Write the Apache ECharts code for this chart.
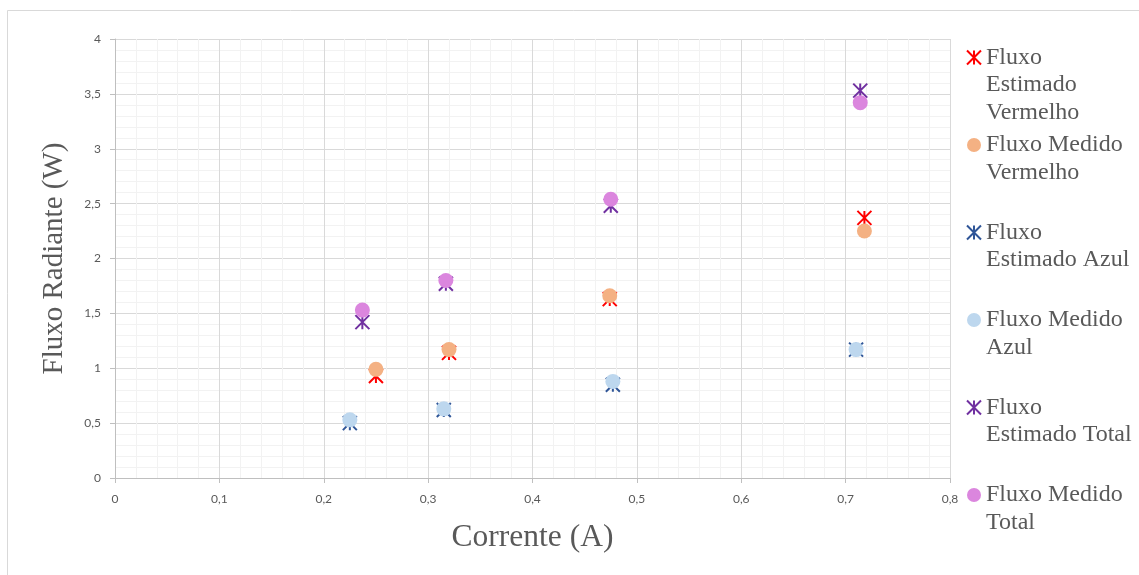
<!DOCTYPE html>
<html>
<head>
<meta charset="utf-8">
<script src="https://cdn.jsdelivr.net/npm/echarts@6/dist/echarts.min.js"></script>
<style>
html,body{margin:0;padding:0;background:#fff;}
#chart{width:1139px;height:575px;}
</style>
</head>
<body>
<div id="chart"></div>
<script>
// ---- data ----
const seriesNames = [
  'Fluxo Estimado Vermelho',
  'Fluxo Medido Vermelho',
  'Fluxo Estimado Azul',
  'Fluxo Medido Azul',
  'Fluxo Estimado Total',
  'Fluxo Medido Total'
];
const legendLines = [
  ['Fluxo', 'Estimado', 'Vermelho'],
  ['Fluxo Medido', 'Vermelho'],
  ['Fluxo', 'Estimado Azul'],
  ['Fluxo Medido', 'Azul'],
  ['Fluxo', 'Estimado Total'],
  ['Fluxo Medido', 'Total']
];
const xVermelho = [0.25, 0.32, 0.474, 0.718];
const yEstVermelho = [0.93, 1.14, 1.63, 2.37];
const yMedVermelho = [0.99, 1.17, 1.66, 2.25];
const xAzul = [0.225, 0.315, 0.477, 0.71];
const yEstAzul = [0.50, 0.62, 0.85, 1.17];
const yMedAzul = [0.53, 0.63, 0.88, 1.17];
const xTotal = [0.237, 0.317, 0.475, 0.714];
const yEstTotal = [1.42, 1.77, 2.48, 3.53];
const yMedTotal = [1.53, 1.80, 2.54, 3.42];

const xTicks = {min: 0, max: 0.8, interval: 0.1};
const yTicks = {min: 0, max: 4, interval: 0.5};

// ---- styling ----
const colors = ['#FF0000', '#F4B183', '#2F5597', '#BDD7EE', '#7030A0', '#DB86DE'];
const isStar = [true, false, true, false, true, false];
const STAR = 'path://M0,0L14,14M14,0L0,14M7,0L7,14';
const xs = [xVermelho, xVermelho, xAzul, xAzul, xTotal, xTotal];
const ys = [yEstVermelho, yMedVermelho, yEstAzul, yMedAzul, yEstTotal, yMedTotal];

const fmt = v => String(parseFloat(Number(v).toFixed(2))).replace('.', ',');
const LH = 27.5;

// Legend text padded with blank lines so that the first line sits level with the icon
function legendText(i) {
  const lines = legendLines[i].slice();
  const below = lines.length - 1;
  const out = [];
  for (let k = 0; k < 2; k++) out.push(' ');
  lines.forEach(l => out.push(l));
  for (let k = below; k < 2; k++) out.push(' ');
  return out.join('\n');
}

const series = seriesNames.map((name, i) => ({
  name: name,
  type: 'scatter',
  data: xs[i].map((x, k) => [x, ys[i][k]]),
  symbol: isStar[i] ? STAR : 'circle',
  symbolSize: isStar[i] ? 14 : 15,
  itemStyle: isStar[i]
    ? {color: colors[i], borderColor: colors[i], borderWidth: 2, opacity: 1}
    : {color: colors[i], borderWidth: 0, opacity: 1},
  emphasis: {disabled: true},
  z: 2 + i
}));

const legendData = seriesNames.map((name, i) => ({
  name: name,
  icon: isStar[i] ? STAR : 'circle',
  itemStyle: isStar[i]
    ? {color: colors[i], borderColor: colors[i], borderWidth: 2}
    : {color: colors[i], borderWidth: 0}
}));

const chart = echarts.init(document.getElementById('chart'), null, {renderer: 'canvas'});
chart.setOption({
  backgroundColor: '#ffffff',
  animation: false,
  color: colors,
  graphic: [{
    type: 'rect',
    shape: {x: 7.5, y: 10.5, width: 1140, height: 575},
    style: {fill: 'none', stroke: '#D9D9D9', lineWidth: 1},
    silent: true,
    z: -10
  }],
  grid: {left: 115, top: 39, width: 835, height: 439, containLabel: false},
  legend: {
    orient: 'vertical',
    left: 966,
    top: 57.5 - 68.75,
    padding: 0,
    itemGap: -50,
    itemWidth: 14,
    itemHeight: 14,
    selectedMode: false,
    data: legendData,
    formatter: name => legendText(seriesNames.indexOf(name)),
    textStyle: {
      fontFamily: 'Liberation Serif',
      fontSize: 24,
      lineHeight: LH,
      color: '#595959'
    }
  },
  xAxis: {
    type: 'value',
    min: xTicks.min, max: xTicks.max, interval: xTicks.interval,
    name: 'Corrente (A)',
    nameLocation: 'middle',
    nameGap: 44,
    nameTextStyle: {fontFamily: 'Liberation Serif', fontSize: 31.5, color: '#595959'},
    axisLine: {show: true, onZero: false, lineStyle: {color: '#BFBFBF', width: 1}},
    axisTick: {show: true, length: 5, lineStyle: {color: '#BFBFBF'}},
    axisLabel: {margin: 15, formatter: fmt, fontFamily: 'Lato', fontSize: 12, color: '#595959'},
    splitLine: {show: true, lineStyle: {color: '#D9D9D9', width: 1}},
    minorTick: {show: false, splitNumber: 5},
    minorSplitLine: {show: true, lineStyle: {color: '#F2F2F2', width: 1}}
  },
  yAxis: {
    type: 'value',
    min: yTicks.min, max: yTicks.max, interval: yTicks.interval,
    name: 'Fluxo Radiante (W)',
    nameLocation: 'middle',
    nameGap: 46,
    nameTextStyle: {fontFamily: 'Liberation Serif', fontSize: 29, color: '#595959'},
    axisLine: {show: true, onZero: false, lineStyle: {color: '#BFBFBF', width: 1}},
    axisTick: {show: true, length: 5, lineStyle: {color: '#BFBFBF'}},
    axisLabel: {margin: 14, formatter: fmt, fontFamily: 'Lato', fontSize: 12, color: '#595959'},
    splitLine: {show: true, lineStyle: {color: '#D9D9D9', width: 1}},
    minorTick: {show: false, splitNumber: 5},
    minorSplitLine: {show: true, lineStyle: {color: '#F2F2F2', width: 1}}
  },
  series: series
});
</script>
</body>
</html>
